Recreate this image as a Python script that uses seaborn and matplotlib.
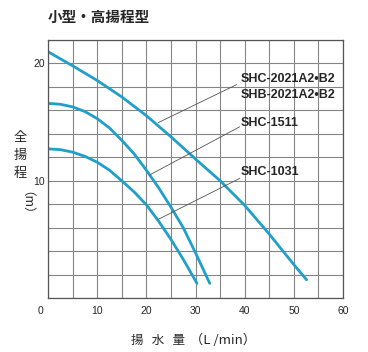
import matplotlib
matplotlib.use("Agg")
import matplotlib.pyplot as plt
import matplotlib.transforms as mtransforms
import numpy as np
import pandas as pd
import seaborn as sns


# pump curves (flow L/min, head m)
shc2021_flow = [0, 5, 10, 15, 20, 25, 30, 35, 40, 45, 50, 52.6]
shc2021_head = [21.0, 19.8, 18.55, 17.15, 15.55, 13.75, 11.85, 10.0, 7.9, 5.45, 2.85, 1.55]

shc1511_flow = [0, 2.5, 5, 7.5, 10, 12.5, 15, 17.5, 20, 22.5, 25, 27.5, 30, 32.9]
shc1511_head = [16.6, 16.52, 16.3, 15.9, 15.3, 14.5, 13.45, 12.3, 10.9, 9.4, 7.75, 6.0, 3.85, 1.25]

shc1031_flow = [0, 2.5, 5, 7.5, 10, 12.5, 15, 17.5, 20, 22.5, 25, 27.5, 30.3]
shc1031_head = [12.72, 12.65, 12.44, 12.08, 11.58, 10.9, 10.0, 9.05, 7.95, 6.55, 5.0, 3.3, 1.25]

models = ["SHC-2021A2•B2", "SHC-1511", "SHC-1031"]

x_ticks = [0, 10, 20, 30, 40, 50, 60]
y_ticks = [0, 2, 4, 6, 8, 10, 12, 14, 16, 18, 20, 22]
y_tick_labels = ["", "", "", "", "", "10", "", "", "", "", "20", ""]

title = "小型・高揚程型"
x_label = "揚   水   量"
x_unit = "（L /min）"
y_label = "全\n揚\n程"
y_unit = "（m）"


df = pd.concat([
    pd.DataFrame({"flow": shc2021_flow, "head": shc2021_head, "model": models[0]}),
    pd.DataFrame({"flow": shc1511_flow, "head": shc1511_head, "model": models[1]}),
    pd.DataFrame({"flow": shc1031_flow, "head": shc1031_head, "model": models[2]}),
])

sns.set_theme(style="white")
plt.rcParams["font.family"] = ["Liberation Sans", "Noto Sans CJK JP", "DejaVu Sans"]

line_color = "#1f9fc9"
cjk = ["Noto Sans CJK JP", "DejaVu Sans"]
latin = ["Liberation Sans", "DejaVu Sans"]

fig = plt.figure(figsize=(3.68, 3.52), dpi=100)
ax = fig.add_axes([48 / 368, 54 / 352, 295 / 368, 258 / 352])

sns.lineplot(
    data=df, x="flow", y="head", hue="model", units="model", estimator=None,
    palette=[line_color] * 3, linewidth=2.0, legend=False, sort=False, ax=ax,
)

ax.set_xlim(0, 60)
ax.set_ylim(0, 22)
ax.set_xticks(np.arange(0, 61, 5), minor=True)
ax.set_xticks(x_ticks)
ax.set_xticklabels([str(t) for t in x_ticks], fontsize=7.5)
ax.set_yticks(y_ticks)
ax.set_yticklabels(y_tick_labels, fontsize=7.5)
ax.tick_params(axis="both", which="both", length=0)
ax.tick_params(axis="x", pad=6)
ax.tick_params(axis="y", pad=2)
ax.grid(True, which="both", color="#858585", linewidth=0.8)
for s in ax.spines.values():
    s.set_color("#555555")
    s.set_linewidth(0.9)
ax.set_xlabel("")
ax.set_ylabel("")

# the "0" label sits a little left of the axis corner
zero_lbl = ax.get_xticklabels()[0]
zero_lbl.set_transform(zero_lbl.get_transform()
                       + mtransforms.ScaledTranslation(-7 / 100, 0, fig.dpi_scale_trans))

# leader lines from curves to labels
leaders = [((22.4, 14.95), (38.4, 18.2)), ((20.7, 10.5), (39.0, 14.6)), ((22.4, 6.7), (39.0, 10.2))]
for xy, xytext in leaders:
    ax.annotate("", xy=xy, xytext=xytext,
                arrowprops=dict(arrowstyle="-", color="#555555", lw=0.6, shrinkA=0, shrinkB=0))

lbl_kw = dict(fontsize=9, fontweight="bold", family=latin, va="center")
ax.text(39.25, 18.7, "SHC-2021A2•B2", **lbl_kw)
ax.text(39.25, 17.35, "SHB-2021A2•B2", **lbl_kw)
ax.text(39.25, 14.96, "SHC-1511", **lbl_kw)
ax.text(39.25, 10.77, "SHC-1031", **lbl_kw)

fig.text(48 / 368, 1 - 17 / 352, title, fontsize=10.5, fontweight="bold", family=cjk, va="center", ha="left")
fig.text(158 / 368, 1 - 340 / 352, x_label, fontsize=9, family=cjk, va="center", ha="center")
fig.text(223 / 368, 1 - 340 / 352, x_unit, fontsize=9.5, family=cjk, va="center", ha="center")
fig.text(20 / 368, 1 - 155 / 352, y_label, fontsize=9.5, family=cjk, va="center", ha="center", linespacing=1.5)
fig.text(20 / 368, 1 - 209 / 352, y_unit, fontsize=9, family=cjk, va="center", ha="center", rotation=-90)

fig.savefig("out.png", dpi=100)
